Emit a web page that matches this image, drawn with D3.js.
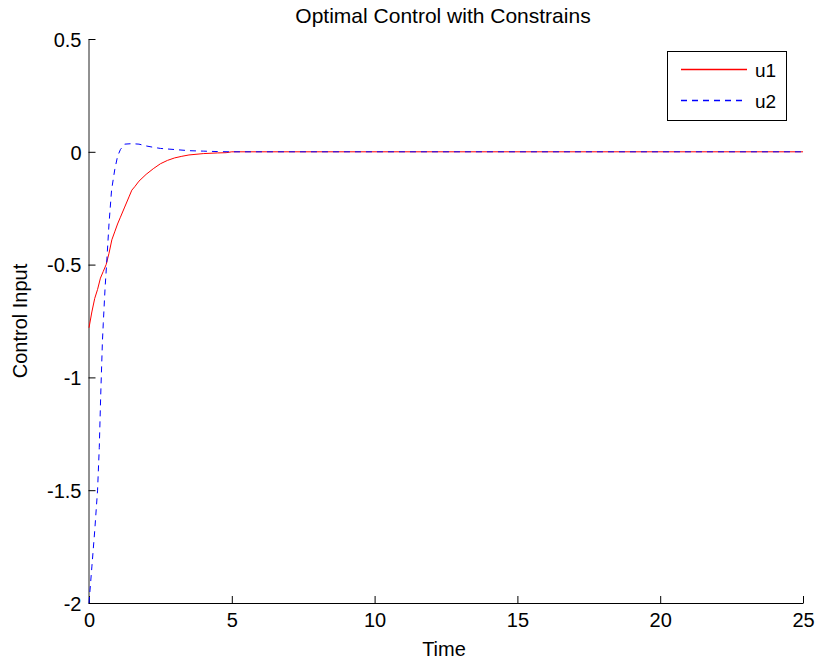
<!DOCTYPE html>
<html>
<head>
<meta charset="utf-8">
<script src="https://cdn.jsdelivr.net/npm/d3@7"></script>
<style>
  html, body { margin: 0; padding: 0; background: #fff; }
  svg { display: block; }
  text { font-family: "Liberation Sans", Arial, Helvetica, sans-serif; fill: #000; }
</style>
</head>
<body>
<svg id="chart" width="817" height="666"></svg>
<script>
// ---- data ----
const titleText = "Optimal Control with Constrains";
const xLabel = "Time";
const yLabel = "Control Input";
const seriesNames = ["u1", "u2"];

const u1Time = [0, 0.1, 0.2, 0.3, 0.4, 0.5, 0.6, 0.7, 0.8, 0.9, 1.0, 1.1, 1.25, 1.4, 1.5, 1.6, 1.75, 2.0, 2.25, 2.5, 2.75, 3.0, 3.25, 3.5, 4.0, 4.5, 4.8, 5.0, 25];
const u1Value = [-0.78, -0.71, -0.65, -0.61, -0.56, -0.53, -0.50, -0.45, -0.39, -0.355, -0.32, -0.29, -0.245, -0.20, -0.17, -0.155, -0.13, -0.10, -0.075, -0.053, -0.038, -0.027, -0.02, -0.014, -0.008, -0.005, -0.004, 0, 0];

const u2Time = [0, 0.1, 0.2, 0.3, 0.36, 0.41, 0.47, 0.5, 0.56, 0.62, 0.7, 0.79, 0.9, 1.0, 1.1, 1.25, 1.5, 1.75, 2.0, 2.25, 2.5, 3.0, 3.5, 4.0, 4.5, 5.0, 25];
const u2Value = [-2.0, -1.84, -1.68, -1.50, -1.31, -1.08, -0.84, -0.76, -0.61, -0.49, -0.32, -0.17, -0.08, -0.02, 0.01, 0.034, 0.036, 0.034, 0.026, 0.02, 0.015, 0.01, 0.005, 0.003, 0.001, 0, 0];

const xTicks = [0, 5, 10, 15, 20, 25];
const xTickLabels = ["0", "5", "10", "15", "20", "25"];
const yTicks = [-2, -1.5, -1, -0.5, 0, 0.5];
const yTickLabels = ["-2", "-1.5", "-1", "-0.5", "0", "0.5"];

// ---- layout ----
const svg = d3.select("#chart");
const plotLeft = 89, plotRight = 803, plotTop = 39, plotBottom = 603;

const x = d3.scaleLinear().domain([0, 25]).range([plotLeft, plotRight]);
const y = d3.scaleLinear().domain([-2, 0.5]).range([plotBottom, plotTop]);

// x axis (ticks inward)
const xAxis = svg.append("g")
  .attr("transform", `translate(0,${plotBottom})`)
  .call(d3.axisBottom(x).tickValues(xTicks)
    .tickFormat((d, i) => xTickLabels[i])
    .tickSize(-7).tickSizeOuter(0).tickPadding(0));
xAxis.select(".domain").attr("stroke", "#000").attr("stroke-width", 1);
xAxis.selectAll(".tick line").attr("stroke", "#000");
xAxis.selectAll(".tick text")
  .attr("font-size", 20)
  .attr("y", 24)
  .attr("dy", 0)
  .style("font-family", "'Liberation Sans', Arial, sans-serif");

// y axis (ticks inward)
const yAxis = svg.append("g")
  .attr("transform", `translate(${plotLeft - 0.5},0)`)
  .call(d3.axisLeft(y).tickValues(yTicks)
    .tickFormat((d, i) => yTickLabels[i])
    .tickSize(-7).tickSizeOuter(0).tickPadding(0));
yAxis.select(".domain").attr("stroke", "#222").attr("stroke-width", 1);
yAxis.selectAll(".tick line").attr("stroke", "#000");
yAxis.selectAll(".tick text")
  .attr("font-size", 20)
  .attr("x", -7)
  .attr("dy", "0.36em")
  .style("font-family", "'Liberation Sans', Arial, sans-serif");

// lines
const line = d3.line().x(d => x(d[0])).y(d => y(d[1]));
const u1 = u1Time.map((t, i) => [t, u1Value[i]]);
const u2 = u2Time.map((t, i) => [t, u2Value[i]]);

svg.append("path").datum(u1)
  .attr("d", line).attr("fill", "none")
  .style("stroke", "#ff0000").style("stroke-width", 1);

svg.append("path").datum(u2)
  .attr("d", line).attr("fill", "none")
  .style("stroke", "#0000ff").style("stroke-width", 1)
  .style("stroke-dasharray", "6,5");

// title and labels
svg.append("text")
  .attr("x", 443).attr("y", 23)
  .attr("text-anchor", "middle")
  .attr("font-size", 21)
  .text(titleText);

svg.append("text")
  .attr("x", 444).attr("y", 656)
  .attr("text-anchor", "middle")
  .attr("font-size", 20)
  .text(xLabel);

svg.append("text")
  .attr("transform", `translate(27,${(plotTop + plotBottom) / 2}) rotate(-90)`)
  .attr("text-anchor", "middle")
  .attr("font-size", 20)
  .text(yLabel);

// legend
const legend = svg.append("g");
legend.append("rect")
  .attr("x", 667.5).attr("y", 51.5)
  .attr("width", 119).attr("height", 69)
  .attr("fill", "#fff").attr("stroke", "#000").attr("stroke-width", 1);

const legendColors = ["#ff0000", "#0000ff"];
const legendDashes = ["none", "6,5"];
seriesNames.forEach((name, i) => {
  const ly = 69.5 + i * 31;
  legend.append("line")
    .attr("x1", 681).attr("x2", 747)
    .attr("y1", ly).attr("y2", ly)
    .style("stroke", legendColors[i])
    .style("stroke-width", 1.4)
    .style("stroke-dasharray", legendDashes[i]);
  legend.append("text")
    .attr("x", 755).attr("y", ly + 7.5)
    .attr("font-size", 19)
    .text(name);
});
</script>
</body>
</html>
